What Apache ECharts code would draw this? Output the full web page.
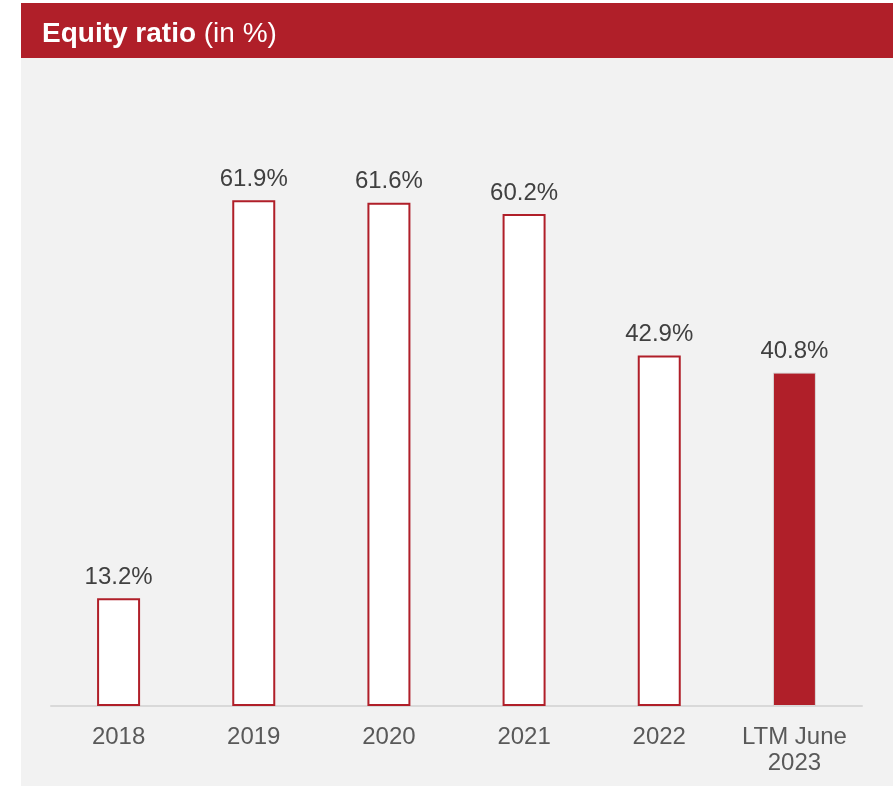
<!DOCTYPE html>
<html>
<head>
<meta charset="utf-8">
<script src="https://cdn.jsdelivr.net/npm/echarts@6/dist/echarts.min.js"></script>
<style>
  html, body { margin: 0; padding: 0; background: #fff; }
  #chart { width: 893px; height: 786px; }
</style>
</head>
<body>
<div id="chart"></div>
<script>
// categories and values (equity ratio, %)
var categories = ["2018", "2019", "2020", "2021", "2022", "LTM June\n2023"];
var values = [13.2, 61.9, 61.6, 60.2, 42.9, 40.8];
var highlightIndex = 5; // filled bar

var red = "#b01f29";
var font = "Liberation Sans, Arial";

var chart = echarts.init(document.getElementById("chart"));

var option = {
  animation: false,
  backgroundColor: "#ffffff",
  graphic: [
    // gray panel
    {
      type: "rect",
      shape: { x: 21, y: 58, width: 872, height: 728 },
      style: { fill: "#f2f2f2" },
      z: -10
    },
    // red title bar
    {
      type: "rect",
      shape: { x: 21, y: 3, width: 872, height: 55 },
      style: { fill: red },
      z: -10
    },
    // title text
    {
      type: "text",
      x: 42,
      y: 34,
      style: {
        text: "{b|Equity ratio}{n| (in %)}",
        verticalAlign: "middle",
        rich: {
          b: { fontFamily: font, fontSize: 28, fontWeight: "bold", fill: "#fff", color: "#fff" },
          n: { fontFamily: font, fontSize: 28, fontWeight: "normal", fill: "#fff", color: "#fff" }
        }
      }
    }
  ],
  grid: {
    left: 51,
    right: 31,
    top: 134,
    bottom: 80,
    containLabel: false
  },
  xAxis: {
    type: "category",
    data: categories,
    axisLine: { lineStyle: { color: "#d9d9d9", width: 2 } },
    axisTick: { show: false },
    axisLabel: {
      color: "#595959",
      fontFamily: font,
      fontSize: 24,
      margin: 18,
      lineHeight: 26,
      interval: 0
    }
  },
  yAxis: {
    type: "value",
    min: 0,
    max: 70,
    show: false,
    splitLine: { show: false }
  },
  series: [
    {
      type: "bar",
      barWidth: 43,
      data: values.map(function (v, i) {
        if (i === highlightIndex) {
          return { value: v, itemStyle: { color: red, borderColor: "#d9d9d9", borderWidth: 1 } };
        }
        return { value: v };
      }),
      itemStyle: {
        color: "#ffffff",
        borderColor: red,
        borderWidth: 2
      },
      label: {
        show: true,
        position: "top",
        distance: 9,
        color: "#404040",
        fontFamily: font,
        fontSize: 24,
        formatter: function (p) { return p.value.toFixed(1) + "%"; }
      }
    }
  ]
};

chart.setOption(option);
</script>
</body>
</html>
